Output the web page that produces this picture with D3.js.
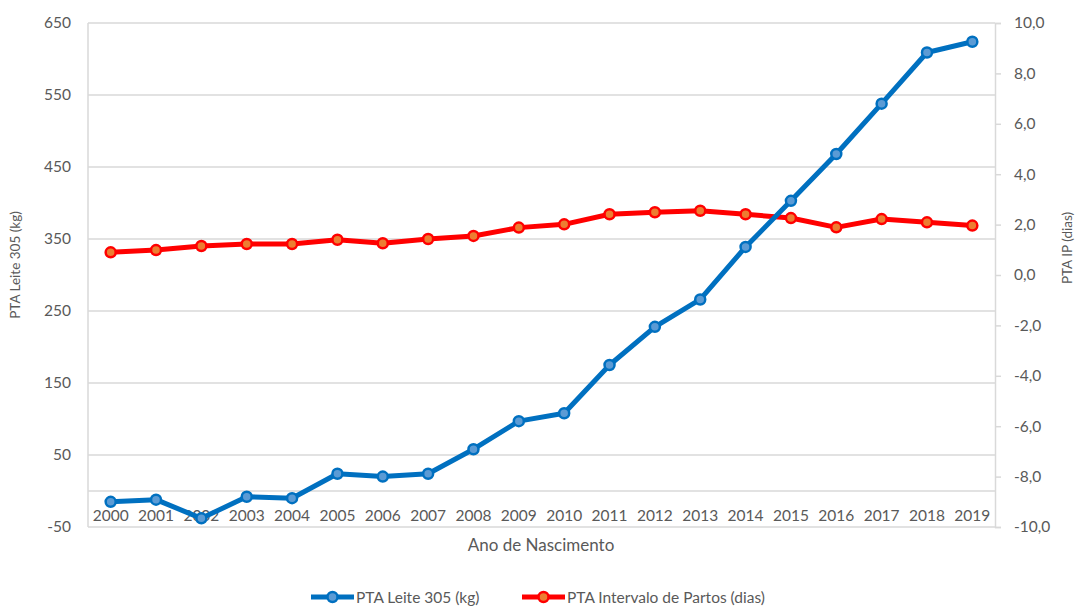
<!DOCTYPE html>
<html>
<head>
	<meta charset="UTF-8">
	<title>PTA</title>
	<script src="https://cdn.jsdelivr.net/npm/d3@7"></script>
	<style>
		body { margin: 0; background: #fff; }
		text { font-family: Lato, "Open Sans", sans-serif; fill: #595959; }
	</style>
</head>
<body>
	<script type="text/javascript">
		// data
		var anos = ["2000","2001","2002","2003","2004","2005","2006","2007","2008","2009",
		            "2010","2011","2012","2013","2014","2015","2016","2017","2018","2019"];
		var leite = [-15, -12, -38, -8, -10, 24, 20, 24, 58, 97,
		             108, 175, 228, 266, 339, 403, 468, 538, 609, 624];
		var ip = [0.90, 0.99, 1.15, 1.23, 1.23, 1.40, 1.26, 1.43, 1.55, 1.88,
		          2.01, 2.41, 2.49, 2.55, 2.41, 2.26, 1.89, 2.22, 2.09, 1.96];
		var ticksLeite = [650, 550, 450, 350, 250, 150, 50, -50];
		var ticksIp = [10, 8, 6, 4, 2, 0, -2, -4, -6, -8, -10];

		var svg = d3.select("body").append("svg")
						.attr("width", 1078)
						.attr("height", 606);

		var pLeft = 88, pRight = 995, pTop = 23, pBottom = 527;

		var x = d3.scaleBand().domain(anos).range([pLeft, pRight]);
		var yL = d3.scaleLinear().domain([-50, 650]).range([pBottom, pTop]);
		var yR = d3.scaleLinear().domain([-10, 10]).range([pBottom, pTop]);

		// gridlines
		svg.append("g").selectAll("line").data(ticksLeite).enter().append("line")
			.attr("x1", pLeft).attr("x2", pRight)
			.attr("y1", d => yL(d)).attr("y2", d => yL(d))
			.attr("stroke", "#d9d9d9").attr("stroke-width", 1.5);

		// category axis crosses at 0
		svg.append("line")
			.attr("x1", pLeft).attr("x2", pRight)
			.attr("y1", yL(0)).attr("y2", yL(0))
			.attr("stroke", "#d9d9d9").attr("stroke-width", 1.5);

		// left vertical axis line
		svg.append("line").attr("x1", pLeft).attr("x2", pLeft).attr("y1", pTop).attr("y2", pBottom)
			.attr("stroke", "#d9d9d9").attr("stroke-width", 1.5);

		// left axis
		var axL = svg.append("g").attr("transform", "translate(" + pLeft + ",0)")
			.call(d3.axisLeft(yL).tickValues(ticksLeite).tickSize(0).tickPadding(17)
				.tickFormat(d => String(d)));
		axL.select(".domain").remove();
		axL.selectAll("text").style("font-size", "15.5px").style("font-family", "Lato").attr("fill", "#595959");

		// right axis
		var axR = svg.append("g").attr("transform", "translate(" + pRight + ",0)")
			.call(d3.axisRight(yR).tickValues(ticksIp).tickSize(6).tickPadding(13)
				.tickFormat(d => d.toFixed(1).replace(".", ",")));
		axR.select(".domain").attr("stroke", "#d9d9d9").attr("stroke-width", 1.5);
		axR.selectAll("line").attr("stroke", "#d9d9d9").attr("stroke-width", 1.5);
		axR.selectAll("text").style("font-size", "15.5px").style("font-family", "Lato").attr("fill", "#595959");

		// x labels
		svg.append("g").selectAll("text").data(anos).enter().append("text")
			.attr("x", d => x(d) + x.bandwidth() / 2)
			.attr("y", 521)
			.attr("text-anchor", "middle")
			.style("font-size", "15.5px")
			.text(d => d);

		// titles
		svg.append("text").attr("x", 541).attr("y", 551).attr("text-anchor", "middle")
			.style("font-size", "17px").text("Ano de Nascimento");
		svg.append("text").attr("transform", "translate(20,265) rotate(-90)").attr("text-anchor", "middle")
			.style("font-size", "13.5px").text("PTA Leite 305 (kg)");
		svg.append("text").attr("transform", "translate(1072,248) rotate(-90)").attr("text-anchor", "middle")
			.style("font-size", "13.5px").text("PTA IP (dias)");

		// series
		var cx = d => x(d) + x.bandwidth() / 2;
		var lineL = d3.line().x((d, i) => cx(anos[i])).y(d => yL(d));
		var lineR = d3.line().x((d, i) => cx(anos[i])).y(d => yR(d));

		svg.append("path").datum(ip).attr("d", lineR)
			.attr("fill", "none").attr("stroke", "#ff0000").attr("stroke-width", 5).attr("stroke-linejoin", "round");
		svg.append("g").selectAll("circle").data(ip).enter().append("circle")
			.attr("cx", (d, i) => cx(anos[i])).attr("cy", d => yR(d)).attr("r", 5)
			.attr("fill", "#ed7d31").attr("stroke", "#ff0000").attr("stroke-width", 2.5);

		svg.append("path").datum(leite).attr("d", lineL)
			.attr("fill", "none").attr("stroke", "#0070c0").attr("stroke-width", 5).attr("stroke-linejoin", "round");
		svg.append("g").selectAll("circle").data(leite).enter().append("circle")
			.attr("cx", (d, i) => cx(anos[i])).attr("cy", d => yL(d)).attr("r", 5)
			.attr("fill", "#5b9bd5").attr("stroke", "#0070c0").attr("stroke-width", 2.5);

		// legend
		var legenda = [
			{ nome: "PTA Leite 305 (kg)", cor: "#0070c0", fill: "#5b9bd5", x: 311 },
			{ nome: "PTA Intervalo de Partos (dias)", cor: "#ff0000", fill: "#ed7d31", x: 522 }
		];
		var lg = svg.append("g").selectAll("g").data(legenda).enter().append("g")
			.attr("transform", d => "translate(" + d.x + ",597)");
		lg.append("line").attr("x1", 0).attr("x2", 43).attr("y1", 0).attr("y2", 0)
			.attr("stroke", d => d.cor).attr("stroke-width", 5);
		lg.append("circle").attr("cx", 21.5).attr("cy", 0).attr("r", 5)
			.attr("fill", d => d.fill).attr("stroke", d => d.cor).attr("stroke-width", 2.5);
		lg.append("text").attr("x", 45).attr("y", 5.5).style("font-size", "15.5px").text(d => d.nome);
	</script>
</body>
</html>
